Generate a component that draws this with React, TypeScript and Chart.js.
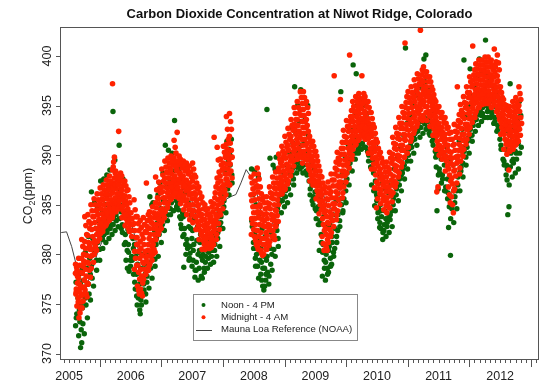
import { useEffect, useRef } from 'react';
import { Chart, registerables } from 'chart.js';

Chart.register(...registerables);

const X_MIN = 2005.352;
const X_MAX = 2013.131;
const Y_MIN = 369.45;
const Y_MAX = 402.92;
const WINDOW = 0.05;

const yearLabels = ['2005', '2006', '2007', '2008', '2009', '2010', '2011', '2012'];
const yTicks = [370, 375, 380, 385, 390, 395, 400];

// Mauna Loa monthly means, Jan 2005 .. Sep 2012
const mloStart = 2005;
const mlo2005 = [378.47, 379.76, 380.83, 382.38, 382.2, 382.27, 380.78, 378.73, 376.66, 377.0, 378.35, 380.11];
const mlo2006 = [381.38, 382.19, 382.67, 384.61, 385.03, 384.05, 382.46, 380.41, 378.85, 379.13, 380.15, 381.82];
const mlo2007 = [382.89, 383.9, 384.58, 386.5, 386.56, 386.1, 384.5, 381.99, 380.96, 381.12, 382.45, 383.95];
const mlo2008 = [385.52, 385.82, 386.03, 387.21, 388.54, 387.76, 386.36, 384.09, 383.18, 382.99, 384.19, 385.56];
const mlo2009 = [386.94, 387.48, 388.82, 389.55, 390.14, 389.48, 388.03, 386.11, 384.74, 384.43, 386.02, 387.42];
const mlo2010 = [388.71, 390.2, 391.17, 392.46, 393.0, 392.15, 390.2, 388.35, 386.85, 387.24, 388.67, 389.79];
const mlo2011 = [391.33, 391.86, 392.6, 393.25, 394.19, 393.74, 392.51, 390.13, 389.08, 389.0, 390.28, 391.86];
const mlo2012 = [393.12, 393.86, 394.4, 396.18, 396.78, 395.82, 394.29, 392.34, 391.13];

// Midnight - 4 AM readings, grouped in ~2.5-week windows (ppm)
const midnight2005 = [
  [379.0, 377.8, 376.5, 375.2, 378.4, 376.0],
  [379.6, 378.2, 377.0, 375.8, 374.6, 373.6, 376.6],
  [381.5, 380.0, 378.8, 377.4, 376.0, 374.6, 379.3],
  [383.8, 382.0, 380.6, 379.2, 377.8, 376.4, 375.7],
  [384.0, 382.6, 381.2, 379.8, 378.4, 377.0, 380.5],
  [385.0, 383.8, 382.5, 381.2, 379.9, 378.6],
  [385.6, 384.4, 383.2, 382.0, 380.8, 380.0],
  [386.1, 385.0, 384.0, 383.0, 382.0, 381.3],
];
const midnight2006 = [
  [386.7, 385.6, 384.6, 383.6, 382.6, 382.1],
  [387.0, 386.0, 385.0, 384.0, 383.2, 382.7],
  [387.5, 386.6, 385.6, 384.7, 383.8, 383.1],
  [387.9, 387.0, 386.0, 385.1, 384.2, 383.5],
  [397.2, 389.8, 388.8, 388.2, 387.2, 386.2, 385.2, 384.3, 383.7],
  [388.4, 387.5, 386.6, 385.7, 384.9, 384.3],
  [392.4, 388.2, 387.4, 386.6, 385.8, 385.0, 384.6],
  [387.9, 387.0, 386.0, 385.2, 384.4, 383.7],
  [387.4, 386.4, 385.4, 384.5, 383.6, 382.9],
  [386.5, 385.2, 384.0, 383.0, 382.3],
  [384.2, 383.0, 381.8],
  [385.5, 383.8, 382.4, 381.0, 379.6, 378.5],
  [383.8, 382.4, 381.0, 379.6, 378.2, 376.8, 376.0],
  [383.4, 382.0, 380.6, 379.2, 377.8, 376.5, 375.8],
  [383.7, 382.3, 381.0, 379.7, 378.5, 377.5],
  [387.2, 384.0, 382.8, 381.6, 380.4, 379.3, 378.4],
  [384.3, 383.2, 382.0, 380.8, 379.8, 379.0],
  [384.8, 383.7, 382.6, 381.5, 380.5, 380.0],
  [387.8, 385.7, 384.7, 383.6, 382.5, 381.5],
  [387.3, 386.2, 385.1, 384.0, 383.0, 382.3],
];
const midnight2007 = [
  [388.6, 387.4, 386.3, 385.2, 384.1, 383.3],
  [389.4, 388.3, 387.2, 386.2, 385.2, 384.3],
  [389.7, 388.7, 387.7, 386.8, 385.9, 385.1],
  [389.9, 389.0, 388.1, 387.2, 386.4, 385.6],
  [391.5, 390.2, 389.3, 388.4, 387.5, 386.6, 385.8],
  [392.3, 389.9, 389.0, 388.1, 387.2, 386.3, 385.6],
  [389.6, 388.7, 387.7, 386.8, 385.9, 385.1],
  [389.4, 388.4, 387.4, 386.4, 385.4, 384.5],
  [389.2, 388.1, 387.0, 386.0, 385.0, 384.0],
  [388.9, 387.8, 386.7, 385.6, 384.5, 383.5],
  [389.2, 388.0, 386.8, 385.6, 384.4, 383.2],
  [387.8, 386.6, 385.4, 384.3, 383.3, 382.5],
  [386.8, 385.6, 384.5, 383.4, 382.4, 381.5],
  [385.8, 384.6, 383.5, 382.4, 381.4, 380.5],
  [385.0, 384.0, 383.0, 382.0, 381.2, 380.5],
  [384.6, 383.6, 382.6, 381.6, 380.6],
  [385.3, 384.3, 383.3, 382.3, 381.4, 380.7],
  [391.8, 386.8, 385.7, 384.6, 383.5, 382.5, 381.5],
  [390.8, 388.3, 387.2, 386.1, 385.0, 383.8, 382.5],
  [389.6, 388.5, 387.4, 386.3, 385.2, 384.0],
];
const midnight2008 = [
  [390.9, 389.8, 388.7, 387.6, 386.5, 385.6],
  [393.9, 391.6, 390.6, 389.6, 388.6, 387.6, 387.0],
  [394.2, 392.6, 391.2, 389.8, 388.4, 387.0],
  [], [], [], [], [], [],
  [387.8, 386.6, 385.4, 384.2, 383.1, 382.0],
  [388.1, 386.8, 385.5, 384.2, 383.0, 381.8, 381.0],
  [388.7, 387.6, 386.3, 385.0, 383.7, 382.4, 381.2, 380.5],
  [386.8, 385.5, 384.2, 382.9, 381.6, 380.4, 379.9],
  [385.8, 384.6, 383.4, 382.2, 381.0, 380.0],
  [385.8, 384.7, 383.6, 382.5, 381.4, 380.5],
  [386.8, 385.7, 384.6, 383.5, 382.4, 381.3],
  [387.8, 386.7, 385.6, 384.5, 383.4, 382.4, 381.5],
  [388.3, 387.2, 386.1, 385.0, 383.9, 382.8],
  [390.1, 389.2, 388.3, 387.4, 386.6, 386.0],
  [390.9, 389.9, 388.9, 387.9, 386.9, 386.1],
];
const midnight2009 = [
  [391.9, 390.8, 389.7, 388.6, 387.6, 386.6],
  [392.7, 391.6, 390.5, 389.4, 388.4, 387.4],
  [393.6, 392.5, 391.4, 390.4, 389.4, 388.4],
  [394.8, 393.6, 392.6, 391.6, 390.6, 389.5],
  [395.4, 394.2, 393.0, 391.8, 390.7, 389.6],
  [396.4, 395.2, 394.0, 392.8, 391.6, 390.4, 389.2],
  [396.4, 395.2, 394.0, 392.8, 391.6, 390.4, 389.6],
  [395.4, 394.2, 393.0, 391.8, 390.6, 389.5, 388.6],
  [391.9, 390.9, 389.9, 388.9, 388.0, 387.4],
  [391.4, 390.4, 389.4, 388.4, 387.5, 387.0],
  [390.4, 389.4, 388.4, 387.4, 386.4, 385.6],
  [388.9, 387.9, 386.9, 385.9, 385.0, 384.1],
  [387.8, 386.6, 385.4, 384.2, 383.0, 381.8, 380.4],
  [386.8, 385.6, 384.4, 383.2, 382.0, 381.0, 380.4],
  [387.3, 386.1, 384.9, 383.7, 382.5, 381.2],
  [388.1, 386.9, 385.7, 384.6, 383.4, 382.2],
  [398.0, 389.3, 388.1, 386.9, 385.7, 384.6, 383.5],
  [390.3, 389.1, 387.9, 386.7, 385.5, 384.4],
  [395.6, 391.3, 390.1, 389.0, 387.9, 386.8, 385.7],
  [392.5, 391.3, 390.1, 389.0, 387.9, 386.8],
];
const midnight2010 = [
  [393.5, 392.4, 391.3, 390.2, 389.2, 388.2],
  [400.1, 394.5, 393.4, 392.4, 391.4, 390.4, 389.6],
  [395.4, 394.4, 393.4, 392.4, 391.4, 390.6],
  [395.9, 394.9, 393.9, 392.9, 391.9, 391.1],
  [396.2, 395.2, 394.2, 393.3, 392.4, 391.6],
  [398.0, 396.2, 395.2, 394.2, 393.3, 392.5, 391.8],
  [395.9, 394.9, 394.0, 393.1, 392.3, 391.6],
  [395.4, 394.3, 393.2, 392.2, 391.2, 390.2],
  [394.3, 393.1, 391.9, 390.8, 389.7, 388.6],
  [392.8, 391.6, 390.4, 389.2, 388.0, 386.7, 384.7],
  [391.3, 390.1, 388.9, 387.7, 386.6, 385.6],
  [390.3, 389.2, 388.1, 387.0, 386.0, 385.1],
  [389.3, 388.3, 387.3, 386.3, 385.4, 384.5],
  [389.3, 388.3, 387.3, 386.3, 385.2, 384.2],
  [390.3, 389.2, 388.1, 387.0, 385.9, 384.7],
  [391.8, 390.7, 389.6, 388.5, 387.4, 386.2],
  [392.8, 391.7, 390.6, 389.5, 388.4, 387.2],
  [393.8, 392.7, 391.6, 390.5, 389.4, 388.2],
  [394.9, 393.8, 392.7, 391.6, 390.5, 389.2],
  [401.3, 395.9, 394.8, 393.7, 392.6, 391.5, 390.2],
];
const midnight2011 = [
  [396.4, 395.3, 394.2, 393.1, 392.0, 390.8],
  [396.9, 395.8, 394.8, 393.8, 392.7, 391.7],
  [397.6, 396.5, 395.4, 394.4, 393.4, 392.5],
  [398.2, 397.2, 396.2, 395.2, 394.2, 393.2],
  [402.6, 398.6, 397.6, 396.6, 395.6, 394.6, 393.5],
  [398.9, 397.9, 396.9, 395.9, 394.9, 393.7],
  [398.4, 397.4, 396.4, 395.4, 394.4, 393.5],
  [397.9, 396.9, 395.9, 394.9, 393.9, 392.9],
  [396.6, 395.6, 394.6, 393.6, 392.6, 392.0],
  [395.4, 394.4, 393.4, 392.4, 391.4, 390.6, 386.8, 386.3],
  [394.9, 393.8, 392.7, 391.6, 390.5, 390.0],
  [394.3, 393.3, 392.3, 391.3, 390.3, 389.6],
  [393.8, 392.7, 391.6, 390.5, 389.4, 388.4],
  [392.8, 391.6, 390.4, 389.2, 388.0, 386.8, 385.2],
  [392.3, 391.0, 389.7, 388.4, 387.1, 385.8, 384.2],
  [393.1, 391.8, 390.5, 389.2, 387.9, 386.6],
  [396.9, 394.1, 392.9, 391.7, 390.5, 389.3, 388.1],
  [395.1, 393.9, 392.7, 391.5, 390.4, 389.4],
  [395.9, 394.8, 393.7, 392.6, 391.6, 390.6],
  [396.9, 395.8, 394.7, 393.7, 392.6, 391.6],
];
const midnight2012 = [
  [397.9, 396.9, 395.8, 394.8, 393.8, 392.8],
  [401.0, 398.6, 397.6, 396.6, 395.6, 394.7, 393.8],
  [399.2, 398.2, 397.2, 396.2, 395.3, 394.4],
  [399.6, 398.6, 397.6, 396.6, 395.7, 394.8],
  [399.6, 398.6, 397.6, 396.7, 395.8, 395.1],
  [399.9, 398.9, 397.9, 397.0, 396.1, 395.2],
  [399.9, 398.9, 397.9, 397.0, 396.1, 395.2],
  [399.6, 398.6, 397.6, 396.6, 395.7, 394.8],
  [400.7, 399.4, 398.4, 397.4, 396.4, 395.4, 394.4],
  [400.1, 398.6, 397.5, 396.4, 395.4, 394.5, 393.6],
  [396.9, 395.8, 394.8, 393.8, 392.8, 392.1],
  [395.6, 394.6, 393.6, 392.6, 391.6, 390.6],
  [395.0, 394.0, 393.0, 392.0, 391.0, 390.1, 388.5],
  [394.9, 393.9, 392.9, 391.9, 391.0, 390.4],
  [395.4, 394.4, 393.4, 392.4, 391.4, 390.6],
  [395.8, 394.8, 393.8, 392.8, 391.8, 391.1],
  [396.9, 395.6, 394.4, 393.2, 392.0],
];

// Later readings of each night (same windows)
const midnightLate2005 = [
  [378.7, 378.1, 377.1, 376.2, 375.6, 374.8],
  [378.9, 377.6, 376.8, 376.2, 375.2, 374.1],
  [380.8, 379.6, 379.0, 378.1, 376.7, 375.3],
  [382.9, 381.3, 379.9, 378.5, 377.1, 376.0],
  [383.3, 381.9, 380.8, 379.1, 377.7],
  [384.4, 383.1, 381.8, 380.5, 379.2],
  [385.0, 383.8, 382.6, 381.4, 380.4],
  [385.5, 384.5, 383.5, 382.5, 381.6],
];
const midnightLate2006 = [
  [386.1, 385.1, 384.1, 383.1, 382.3],
  [386.5, 385.5, 384.5, 383.6, 382.9],
  [387.0, 386.1, 385.1, 384.2, 383.4],
  [387.4, 386.5, 385.5, 384.6, 383.8],
  [389.3, 388.5, 387.7, 386.7, 385.7, 384.7, 384.0],
  [387.9, 387.0, 386.1, 385.3, 384.6],
  [387.8, 387.0, 386.2, 385.4, 384.8],
  [387.4, 386.5, 385.6, 384.8, 384.0],
  [386.9, 385.9, 385.0, 384.0, 383.2],
  [385.8, 384.6, 383.5, 382.6],
  [383.6, 382.4],
  [384.5, 383.1, 381.7, 380.3, 378.9],
  [383.1, 381.7, 380.3, 378.9, 377.5, 376.4],
  [382.7, 381.3, 379.9, 378.5, 377.1, 376.1],
  [383.0, 381.6, 380.3, 379.1, 378.0],
  [383.4, 382.2, 381.0, 379.8, 378.8],
  [383.7, 382.6, 381.4, 380.3, 379.4],
  [384.2, 383.1, 382.0, 381.0, 380.2],
  [386.5, 385.2, 384.1, 383.0, 382.0],
  [386.7, 385.6, 384.5, 383.5, 382.6],
];
const midnightLate2007 = [
  [388.0, 386.8, 385.7, 384.6, 383.7],
  [388.8, 387.7, 386.7, 385.7, 384.7],
  [389.2, 388.2, 387.2, 386.3, 385.5],
  [389.4, 388.5, 387.6, 386.8, 386.0],
  [390.8, 389.7, 388.8, 387.9, 387.0, 386.2],
  [389.4, 388.5, 387.6, 386.7, 385.9],
  [389.1, 388.2, 387.2, 386.3, 385.5],
  [388.9, 387.9, 386.9, 385.9, 384.9],
  [388.6, 387.5, 386.5, 385.5, 384.5],
  [388.3, 387.2, 386.1, 385.0, 384.0],
  [388.6, 387.4, 386.2, 385.0, 383.8],
  [387.2, 386.0, 384.9, 383.8, 382.9],
  [386.2, 385.0, 383.9, 382.9, 382.0],
  [385.2, 384.0, 382.9, 381.9, 381.0],
  [384.5, 383.5, 382.5, 381.6, 380.8],
  [384.1, 383.1, 382.1, 381.1],
  [384.8, 383.8, 382.8, 381.8, 381.0],
  [386.2, 385.1, 384.0, 383.0, 382.0],
  [389.5, 387.7, 386.6, 385.5, 384.4, 383.1],
  [389.0, 387.9, 386.8, 385.7, 384.6],
];
const midnightLate2008 = [
  [390.3, 389.2, 388.1, 387.0, 386.0],
  [392.6, 391.1, 390.1, 389.1, 388.1, 387.3],
  [393.4, 391.9, 390.5, 389.1, 387.7],
  [], [], [], [], [], [],
  [387.2, 386.0, 384.8, 383.6, 382.5],
  [387.4, 386.1, 384.8, 383.6, 382.4, 381.4],
  [388.1, 386.9, 385.6, 384.3, 383.0, 381.8, 380.8],
  [386.1, 384.8, 383.5, 382.2, 381.0, 380.1],
  [385.2, 384.0, 382.8, 381.6, 380.5],
  [385.2, 384.1, 383.0, 381.9, 380.9],
  [386.2, 385.1, 384.0, 382.9, 381.8],
  [387.2, 386.1, 385.0, 383.9, 382.9, 381.9],
  [387.7, 386.6, 385.5, 384.4, 383.3],
  [389.6, 388.7, 387.8, 387.0, 386.3],
  [390.4, 389.4, 388.4, 387.4, 386.5],
];
const midnightLate2009 = [
  [391.3, 390.2, 389.1, 388.1, 387.1],
  [392.1, 391.0, 389.9, 388.9, 387.9],
  [393.0, 391.9, 390.9, 389.9, 388.9],
  [394.2, 393.1, 392.1, 391.1, 390.0],
  [394.8, 393.6, 392.4, 391.2, 390.1],
  [395.8, 394.6, 393.4, 392.2, 391.0, 389.8],
  [395.8, 394.6, 393.4, 392.2, 391.0, 390.0],
  [394.8, 393.6, 392.4, 391.2, 390.0, 389.0],
  [391.4, 390.4, 389.4, 388.4, 387.7],
  [390.9, 389.9, 388.9, 388.0, 387.2],
  [389.9, 388.9, 387.9, 386.9, 386.0],
  [388.4, 387.4, 386.4, 385.4, 384.5],
  [387.2, 386.0, 384.8, 383.6, 382.4, 381.1],
  [386.2, 385.0, 383.8, 382.6, 381.5, 380.7],
  [386.7, 385.5, 384.3, 383.1, 381.8],
  [387.5, 386.3, 385.1, 384.0, 382.8],
  [388.7, 387.5, 386.3, 385.1, 384.0],
  [389.7, 388.5, 387.3, 386.1, 385.0],
  [390.7, 389.5, 388.4, 387.3, 386.2],
  [391.9, 390.7, 389.5, 388.4, 387.3],
];
const midnightLate2010 = [
  [392.9, 391.8, 390.7, 389.7, 388.7],
  [393.9, 392.9, 391.9, 390.9, 390.0],
  [394.9, 393.9, 392.9, 391.9, 391.0],
  [395.4, 394.4, 393.4, 392.4, 391.5],
  [395.7, 394.7, 393.7, 392.8, 392.0],
  [395.7, 394.7, 393.7, 392.9, 392.1],
  [395.4, 394.4, 393.5, 392.7, 391.9],
  [394.8, 393.7, 392.7, 391.7, 390.7],
  [393.7, 392.5, 391.3, 390.2, 389.1],
  [392.2, 391.0, 389.8, 388.6, 387.3],
  [390.7, 389.5, 388.3, 387.1, 386.1],
  [389.7, 388.6, 387.5, 386.5, 385.5],
  [388.8, 387.8, 386.8, 385.8, 384.9],
  [388.8, 387.8, 386.8, 385.7, 384.7],
  [389.7, 388.6, 387.5, 386.4, 385.3],
  [391.2, 390.1, 389.0, 387.9, 386.8],
  [392.2, 391.1, 390.0, 388.9, 387.8],
  [393.2, 392.1, 391.0, 389.9, 388.8],
  [394.3, 393.2, 392.1, 391.0, 389.8],
  [395.3, 394.2, 393.1, 392.0, 390.8],
];
const midnightLate2011 = [
  [395.8, 394.7, 393.6, 392.5, 391.4],
  [396.3, 395.3, 394.3, 393.2, 392.2],
  [397.0, 395.9, 394.9, 393.9, 392.9],
  [397.7, 396.7, 395.7, 394.7, 393.7],
  [398.1, 397.1, 396.1, 395.1, 394.0],
  [398.4, 397.4, 396.4, 395.4, 394.3],
  [397.9, 396.9, 395.9, 394.9, 394.0],
  [397.4, 396.4, 395.4, 394.4, 393.4],
  [396.1, 395.1, 394.1, 393.1, 392.3],
  [394.9, 393.9, 392.9, 391.9, 391.0],
  [394.3, 393.2, 392.1, 391.0, 390.2],
  [393.8, 392.8, 391.8, 390.8, 389.9],
  [393.2, 392.1, 391.0, 389.9, 388.9],
  [392.2, 391.0, 389.8, 388.6, 387.4, 386.0],
  [391.6, 390.3, 389.0, 387.7, 386.4, 385.0],
  [392.4, 391.1, 389.8, 388.5, 387.2],
  [393.5, 392.3, 391.1, 389.9, 388.7],
  [394.5, 393.3, 392.1, 390.9, 389.9],
  [395.3, 394.2, 393.1, 392.1, 391.1],
  [396.3, 395.2, 394.2, 393.1, 392.1],
];
const midnightLate2012 = [
  [397.4, 396.3, 395.3, 394.3, 393.3],
  [398.1, 397.1, 396.1, 395.1, 394.2],
  [398.7, 397.7, 396.7, 395.7, 394.8],
  [399.1, 398.1, 397.1, 396.1, 395.2],
  [399.1, 398.1, 397.1, 396.2, 395.4],
  [399.4, 398.4, 397.4, 396.5, 395.6],
  [399.4, 398.4, 397.4, 396.5, 395.6],
  [399.1, 398.1, 397.1, 396.1, 395.2],
  [398.9, 397.9, 396.9, 395.9, 394.9],
  [399.3, 398.0, 396.9, 395.9, 394.9, 394.0],
  [396.3, 395.3, 394.3, 393.3, 392.4],
  [395.1, 394.1, 393.1, 392.1, 391.1],
  [394.5, 393.5, 392.5, 391.5, 390.5],
  [394.4, 393.4, 392.4, 391.4, 390.7],
  [394.9, 393.9, 392.9, 391.9, 391.0],
  [395.3, 394.3, 393.3, 392.3, 391.4],
  [396.2, 395.0, 393.8, 392.6],
];

// Noon - 4 PM readings, same windows
const noon2005 = [
  [377.2, 375.6, 374.0, 372.8],
  [378.0, 375.0, 373.2, 371.8, 370.6],
  [378.5, 375.8, 373.0, 371.1],
  [380.2, 377.0, 374.9, 376.0],
  [381.8, 378.0, 376.0],
  [386.3, 380.5, 377.6],
  [385.2, 379.4, 381.0],
  [384.8, 380.5, 382.0],
];
const noon2006 = [
  [387.4, 381.5, 382.8],
  [387.6, 382.4, 383.5],
  [388.0, 382.8, 384.0],
  [388.5, 383.0, 384.5],
  [394.4, 389.5, 383.6, 384.8],
  [384.0, 385.6],
  [391.0, 384.3, 385.0],
  [383.0, 384.2, 387.6],
  [382.0, 380.4, 379.4],
  [381.0, 379.4, 378.3, 382.5],
  [382.4, 380.6, 379.4],
  [381.0, 378.0, 376.5],
  [379.0, 377.0, 375.6, 374.9],
  [378.6, 376.2, 374.9, 374.0],
  [377.0, 376.0, 379.0],
  [377.2, 378.6, 380.0],
  [385.8, 385.0, 378.6, 380.2],
  [385.2, 379.5, 381.0],
  [381.0, 386.0, 382.2],
  [382.0, 383.4, 387.2],
];
const noon2007 = [
  [383.0, 384.2, 388.2],
  [391.0, 384.0, 385.2],
  [390.5, 384.6, 385.8],
  [385.2, 386.2, 390.2],
  [393.5, 385.4, 386.5],
  [385.0, 386.0, 384.5],
  [383.0, 384.2, 382.6],
  [378.7, 381.0, 382.6, 383.8],
  [381.5, 382.8, 380.6],
  [380.1, 381.6, 382.6, 379.6],
  [379.4, 377.7, 381.0, 382.4],
  [378.4, 380.0, 381.4],
  [378.6, 379.8, 381.2],
  [377.6, 378.6, 380.0],
  [379.2, 380.4, 381.6],
  [379.6, 380.8],
  [379.8, 381.0],
  [380.4, 381.8],
  [381.6, 383.0],
  [383.2, 384.4],
];
const noon2008 = [
  [384.8, 386.0],
  [391.4, 390.6, 386.6],
  [390.0, 388.0],
  [], [], [], [], [], [],
  [388.6, 381.2, 382.8],
  [388.4, 380.0, 379.6],
  [378.8, 380.2, 387.8],
  [378.0, 376.8, 379.2],
  [376.4, 377.4, 378.6],
  [394.6, 377.0, 378.2, 379.4],
  [389.7, 380.0, 379.0],
  [389.0, 388.6, 380.5],
  [389.8, 381.6, 382.4],
  [385.5, 389.6],
  [385.4, 386.8],
];
const noon2009 = [
  [385.8, 387.2],
  [386.6, 388.0],
  [392.8, 387.6, 388.6],
  [396.9, 388.8, 389.8],
  [395.0, 389.2, 390.4],
  [396.6, 390.0, 388.8],
  [389.0, 390.2],
  [388.0, 389.0, 395.0],
  [386.0, 387.0],
  [385.0, 386.3],
  [383.6, 384.8],
  [380.4, 382.0, 383.4],
  [377.8, 379.4, 381.0],
  [377.4, 378.6, 380.0],
  [378.2, 379.6, 380.8],
  [379.0, 380.2, 381.2],
  [380.6, 381.8],
  [382.4, 383.4],
  [396.4, 384.2, 385.0],
  [385.6, 386.4],
];
const noon2010 = [
  [387.6, 388.8],
  [389.2, 390.0],
  [399.1, 390.2, 391.0],
  [398.2, 390.6, 391.6],
  [391.0, 392.0],
  [391.2, 392.4],
  [390.8, 392.0],
  [389.4, 390.6],
  [387.0, 388.2, 389.4],
  [384.9, 386.0, 387.4],
  [383.6, 382.7, 384.6, 385.8],
  [382.6, 381.5, 383.8, 385.0],
  [382.4, 383.6, 384.4],
  [382.8, 383.8],
  [383.5, 384.4],
  [385.0, 386.0],
  [386.0, 387.0],
  [387.0, 388.0],
  [388.2, 389.0],
  [400.8, 389.4, 390.4],
];
const noon2011 = [
  [390.0, 391.0],
  [390.8, 391.8],
  [391.6, 392.6],
  [392.4, 393.4],
  [392.8, 393.6],
  [399.7, 400.1, 393.2],
  [392.8, 393.8],
  [392.0, 393.2],
  [391.0, 392.2],
  [388.8, 386.6, 384.4, 389.8],
  [388.6, 389.6],
  [388.0, 389.0],
  [386.4, 387.6],
  [382.7, 379.9, 384.8, 386.2],
  [385.0, 386.4],
  [385.2, 386.4],
  [387.0, 388.2],
  [388.4, 389.2],
  [399.6, 389.8, 390.8],
  [390.8, 391.8],
];
const noon2012 = [
  [398.7, 392.0],
  [393.0, 394.0],
  [393.6, 394.4],
  [399.7, 394.0],
  [394.2, 395.0],
  [401.6, 394.4, 395.4],
  [394.6, 395.6],
  [394.4, 395.4],
  [393.8, 394.8],
  [393.0, 394.0],
  [391.0, 392.2],
  [389.4, 390.6],
  [387.5, 384.8, 384.0, 389.0],
  [397.2, 389.4, 390.2],
  [389.6, 390.4],
  [390.2, 391.2],
  [395.4, 390.8],
];

// Later afternoon readings (same windows)
const noonLate2005 = [
  [376.4, 373.6, 378.2],
  [377.0, 374.4, 372.4],
  [377.4, 374.6, 372.0],
  [378.6, 375.6, 373.6],
  [379.6, 377.0, 375.4],
  [381.6, 379.0, 376.8],
  [382.6, 380.2, 378.4],
  [383.4, 381.2, 379.4],
];
const noonLate2006 = [
  [384.2, 381.8, 380.6],
  [385.0, 382.0, 381.2],
  [386.0, 382.2, 381.6],
  [386.6, 382.6, 382.0],
  [387.0, 383.0, 382.4],
  [387.8, 383.4, 382.8],
  [386.4, 383.6, 382.6],
  [385.6, 382.2, 381.0],
  [384.4, 381.2, 378.6],
  [383.6, 380.2, 378.8],
  [381.6, 379.8, 378.0],
  [379.8, 377.2, 375.8],
  [380.2, 376.4, 374.4],
  [377.4, 375.4, 380.0],
  [378.0, 376.4, 375.2],
  [379.2, 377.8, 376.6],
  [381.4, 379.2, 377.6],
  [382.4, 380.4, 378.8],
  [383.2, 381.6, 379.8],
  [384.6, 382.6, 381.2],
];
const noonLate2007 = [
  [385.4, 383.6, 382.4],
  [386.8, 384.6, 383.4],
  [387.6, 385.2, 384.0],
  [388.4, 385.8, 384.4],
  [389.2, 386.0, 384.8],
  [388.6, 385.4, 383.8],
  [387.4, 383.6, 381.8],
  [386.2, 382.0, 380.0],
  [385.2, 381.0, 379.4],
  [384.0, 380.8, 378.8],
  [383.6, 380.4, 378.4],
  [382.8, 379.2, 377.4],
  [382.0, 380.4, 377.8],
  [381.2, 379.4, 378.2],
  [380.8, 379.8, 378.6],
  [381.4, 380.2, 379.0],
  [382.2, 380.4, 379.2],
  [383.0, 381.0, 379.8],
  [384.4, 382.2, 380.8],
  [386.0, 383.8, 382.6],
];
const noonLate2008 = [
  [388.2, 385.4, 384.2],
  [389.4, 387.4, 386.0],
  [391.6, 389.0, 387.2],
  [], [], [], [], [], [],
  [386.0, 383.4, 380.6],
  [385.0, 382.0, 380.6, 378.8],
  [384.0, 381.4, 379.4, 377.6],
  [382.6, 380.6, 378.6, 377.4],
  [381.8, 379.8, 378.0, 376.8],
  [381.2, 379.8, 377.8],
  [382.2, 380.6, 378.4],
  [383.4, 381.6, 379.8],
  [384.6, 383.0, 380.8],
  [387.0, 385.2, 384.2],
  [388.2, 386.0, 384.8],
];
const noonLate2009 = [
  [389.0, 386.4, 385.2],
  [390.2, 387.2, 386.0],
  [391.2, 388.0, 387.0],
  [392.2, 389.2, 388.2],
  [393.4, 390.0, 388.6],
  [394.0, 391.0, 388.2],
  [393.6, 391.2, 388.4],
  [392.0, 390.0, 387.4],
  [389.4, 386.6, 385.4],
  [388.6, 385.8, 384.6],
  [387.2, 384.4, 383.0],
  [385.6, 383.0, 381.2],
  [383.8, 380.2, 378.6],
  [382.8, 379.2, 378.0],
  [383.0, 380.4, 378.8],
  [384.0, 381.8, 379.8],
  [385.4, 382.6, 381.2],
  [386.8, 384.0, 382.8],
  [388.2, 385.6, 384.4],
  [389.8, 387.0, 385.2],
];
const noonLate2010 = [
  [391.0, 388.2, 387.0],
  [392.6, 389.6, 388.4],
  [394.0, 391.6, 389.6],
  [395.0, 392.6, 390.2],
  [395.6, 393.0, 390.6],
  [395.0, 392.8, 390.8],
  [394.2, 391.6, 390.4],
  [393.0, 390.0, 388.8],
  [391.2, 388.8, 386.4],
  [389.6, 386.4, 385.4],
  [388.0, 384.2, 383.2],
  [387.2, 384.4, 382.2],
  [386.6, 383.0, 381.8],
  [386.2, 383.2, 382.2],
  [387.0, 384.0, 382.8],
  [388.6, 385.6, 384.4],
  [389.8, 386.6, 385.4],
  [390.8, 387.6, 386.4],
  [392.0, 388.6, 387.6],
  [393.2, 389.8, 388.6],
];
const noonLate2011 = [
  [394.0, 390.6, 389.4],
  [395.0, 391.4, 390.2],
  [396.0, 392.2, 391.0],
  [396.8, 393.0, 391.8],
  [397.2, 393.4, 392.2],
  [397.4, 393.8, 392.6],
  [396.6, 393.4, 392.2],
  [395.6, 392.6, 391.4],
  [394.4, 391.6, 390.4],
  [393.0, 390.2, 388.0],
  [392.4, 388.2, 387.2],
  [391.8, 387.6, 386.4],
  [390.8, 386.8, 385.6],
  [389.6, 385.6, 383.6],
  [389.0, 384.6, 383.2],
  [389.8, 385.8, 384.6],
  [391.4, 387.8, 386.4],
  [392.6, 388.8, 387.8],
  [393.8, 390.4, 389.0],
  [395.0, 391.4, 390.2],
];
const noonLate2012 = [
  [396.0, 392.6, 391.4],
  [397.0, 393.4, 392.4],
  [397.8, 394.0, 393.0],
  [398.2, 394.6, 393.4],
  [398.4, 394.8, 393.8],
  [398.2, 395.0, 393.8],
  [397.6, 394.8, 393.8],
  [397.0, 394.2, 393.2],
  [396.4, 393.4, 392.4],
  [395.6, 392.6, 391.6],
  [394.2, 390.6, 389.6],
  [393.0, 389.0, 388.0],
  [392.4, 388.6, 387.0],
  [392.6, 388.8, 387.8],
  [393.0, 389.2, 388.2],
  [393.6, 389.6, 388.6],
  [394.0, 390.2],
];

type Pt = { x: number; y: number };

function toPoints(start: number, windows: number[][], phase: number): Pt[] {
  const out: Pt[] = [];
  windows.forEach((vals, i) => {
    vals.forEach((v, j) => {
      const frac = (j * 0.618034 + phase) % 1;
      out.push({ x: start + i * WINDOW + frac * WINDOW, y: v });
    });
  });
  return out;
}

function monthly(startYear: number, years: number[][]): Pt[] {
  const out: Pt[] = [];
  years.forEach((vals, yi) => {
    vals.forEach((v, m) => out.push({ x: startYear + yi + (m + 0.5) / 12, y: v }));
  });
  return out;
}

const FONT = '"Liberation Sans", Arial, Helvetica, sans-serif';
const RED = '#ff2200';
const GREEN = '#0a640a';

const decorPlugin = {
  id: 'decor',
  afterDraw(chart: any) {
    const ctx = chart.ctx as CanvasRenderingContext2D;
    const { left, right, top, bottom } = chart.chartArea;
    const xs = chart.scales.x;
    const ys = chart.scales.y;
    ctx.save();
    ctx.strokeStyle = '#555';
    ctx.lineWidth = 1;
    ctx.strokeRect(left + 0.5, top + 0.5, right - left - 1, bottom - top);
    ctx.beginPath();
    for (let yr = 2005; yr <= 2013; yr++) {
      for (let m = 0; m < 12; m++) {
        const t = yr + m / 12;
        if (t < X_MIN || t > X_MAX) continue;
        const px = Math.round(xs.getPixelForValue(t)) + 0.5;
        const len = m === 0 ? 8 : 4;
        ctx.moveTo(px, bottom);
        ctx.lineTo(px, bottom + len);
      }
    }
    yTicks.forEach((v) => {
      const py = Math.round(ys.getPixelForValue(v)) + 0.5;
      ctx.moveTo(left - 4, py);
      ctx.lineTo(left, py);
    });
    ctx.stroke();

    ctx.fillStyle = '#222';
    ctx.font = `12.5px ${FONT}`;
    ctx.textAlign = 'center';
    ctx.textBaseline = 'middle';
    yearLabels.forEach((lab, i) => {
      ctx.fillText(lab, xs.getPixelForValue(2005.5 + i), 377);
    });
    yTicks.forEach((v) => {
      const py = ys.getPixelForValue(v);
      ctx.save();
      ctx.translate(48, py);
      ctx.rotate(-Math.PI / 2);
      ctx.fillText(String(v), 0, 0);
      ctx.restore();
    });

    ctx.save();
    ctx.translate(29, 196);
    ctx.rotate(-Math.PI / 2);
    ctx.textAlign = 'left';
    ctx.font = `12.5px ${FONT}`;
    const w1 = ctx.measureText('CO').width;
    const w3 = ctx.measureText('(ppm)').width;
    ctx.font = `9px ${FONT}`;
    const w2 = ctx.measureText('2').width;
    let cx = -(w1 + w2 + w3) / 2;
    ctx.font = `12.5px ${FONT}`;
    ctx.fillText('CO', cx, 0);
    cx += w1;
    ctx.font = `9px ${FONT}`;
    ctx.fillText('2', cx, 3.5);
    cx += w2;
    ctx.font = `12.5px ${FONT}`;
    ctx.fillText('(ppm)', cx, 0);
    ctx.restore();

    ctx.fillStyle = '#111';
    ctx.font = `bold 13px ${FONT}`;
    ctx.textAlign = 'center';
    ctx.fillText('Carbon Dioxide Concentration at Niwot Ridge, Colorado', (left + right) / 2, 14.5);

    const lx = 193, ly = 294, lw = 164, lh = 46;
    ctx.fillStyle = '#fff';
    ctx.fillRect(lx, ly, lw, lh);
    ctx.strokeStyle = '#888';
    ctx.strokeRect(lx + 0.5, ly + 0.5, lw, lh);
    const rows = [305, 317.3, 329.5];
    ctx.fillStyle = GREEN;
    ctx.beginPath();
    ctx.arc(203.5, rows[0], 2, 0, Math.PI * 2);
    ctx.fill();
    ctx.fillStyle = RED;
    ctx.beginPath();
    ctx.arc(203.5, rows[1], 2, 0, Math.PI * 2);
    ctx.fill();
    ctx.strokeStyle = '#444';
    ctx.beginPath();
    ctx.moveTo(196, Math.round(rows[2]) + 0.5);
    ctx.lineTo(212, Math.round(rows[2]) + 0.5);
    ctx.stroke();
    ctx.fillStyle = '#222';
    ctx.font = `9.6px ${FONT}`;
    ctx.textAlign = 'left';
    ctx.fillText('Noon - 4 PM', 221, rows[0]);
    ctx.fillText('Midnight - 4 AM', 221, rows[1]);
    ctx.fillText('Mauna Loa Reference (NOAA)', 221, rows[2]);
    ctx.restore();
  },
};

export default function App() {
  const ref = useRef<HTMLCanvasElement | null>(null);
  useEffect(() => {
    if (!ref.current) return;
    const midYears: [number, number[][], number[][]][] = [
      [2005.6, midnight2005, midnightLate2005],
      [2006, midnight2006, midnightLate2006],
      [2007, midnight2007, midnightLate2007],
      [2008, midnight2008, midnightLate2008],
      [2009, midnight2009, midnightLate2009],
      [2010, midnight2010, midnightLate2010],
      [2011, midnight2011, midnightLate2011],
      [2012, midnight2012, midnightLate2012],
    ];
    const midnight: Pt[] = [];
    midYears.forEach(([s, a, b]) => {
      midnight.push(...toPoints(s, a, 0.1), ...toPoints(s, b, 0.45));
    });
    const noonYears: [number, number[][], number[][]][] = [
      [2005.6, noon2005, noonLate2005],
      [2006, noon2006, noonLate2006],
      [2007, noon2007, noonLate2007],
      [2008, noon2008, noonLate2008],
      [2009, noon2009, noonLate2009],
      [2010, noon2010, noonLate2010],
      [2011, noon2011, noonLate2011],
      [2012, noon2012, noonLate2012],
    ];
    const noon: Pt[] = [];
    noonYears.forEach(([s, a, b]) => noon.push(...toPoints(s, a, 0.25), ...toPoints(s, b, 0.7)));
    const mlo = monthly(mloStart, [mlo2005, mlo2006, mlo2007, mlo2008, mlo2009, mlo2010, mlo2011, mlo2012]);
    const chart = new Chart(ref.current, {
      type: 'scatter',
      data: {
        datasets: [
          { label: 'Midnight - 4 AM', data: midnight, backgroundColor: RED, borderWidth: 0, pointRadius: 2.8 },
          { label: 'Noon - 4 PM', data: noon, backgroundColor: GREEN, borderWidth: 0, pointRadius: 2.7 },
          {
            label: 'Mauna Loa Reference (NOAA)',
            data: mlo,
            showLine: true,
            borderColor: '#444',
            borderWidth: 1,
            pointRadius: 0,
            tension: 0,
          } as any,
        ],
      },
      options: {
        responsive: false,
        animation: false,
        devicePixelRatio: 1,
        events: [],
        layout: { padding: { left: 60, right: 3, top: 27, bottom: 27 } },
        plugins: { legend: { display: false }, tooltip: { enabled: false }, title: { display: false } },
        scales: {
          x: { type: 'linear', min: X_MIN, max: X_MAX, display: false },
          y: { type: 'linear', min: Y_MIN, max: Y_MAX, display: false },
        },
      },
      plugins: [decorPlugin],
    });
    return () => chart.destroy();
  }, []);
  return (
    <div style={{ position: 'absolute', left: 0, top: 0, width: 543, height: 386, background: '#fff' }}>
      <canvas ref={ref} width={543} height={386} />
    </div>
  );
}
